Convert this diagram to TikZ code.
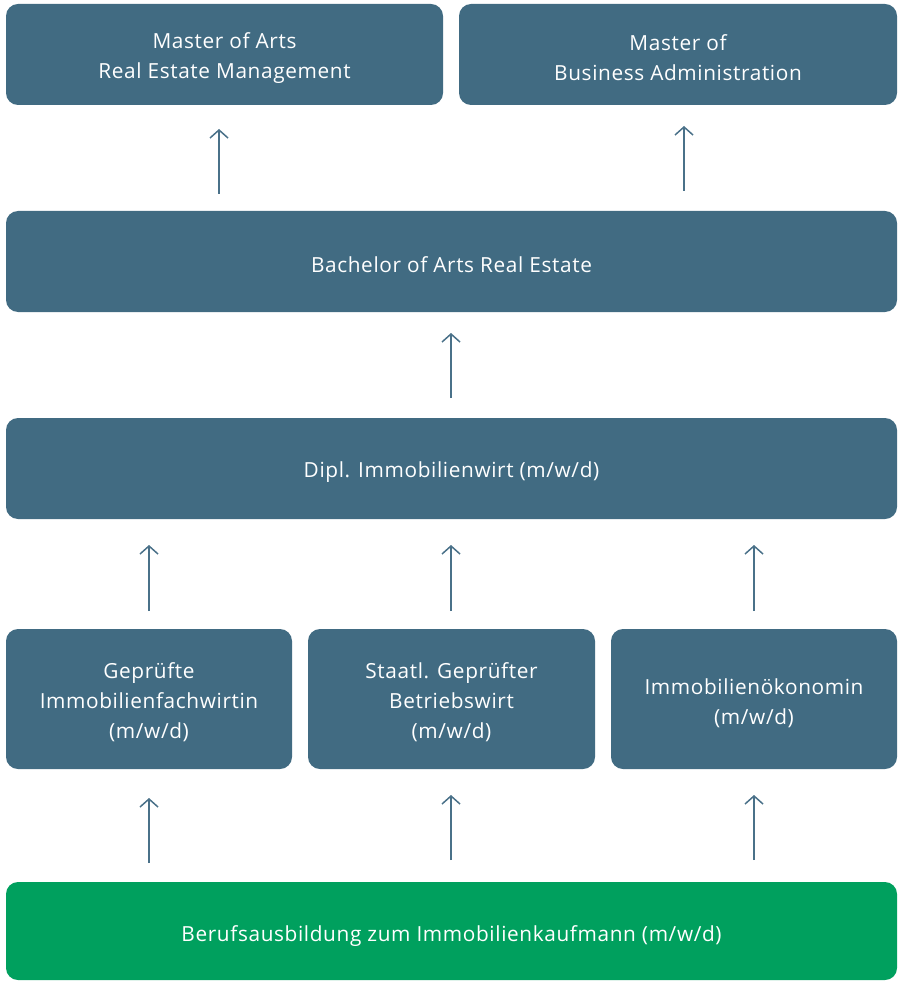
\documentclass[tikz,border=0pt]{standalone}
\usepackage{fontspec}
\setmainfont{Open Sans}[LetterSpace=3]
\usetikzlibrary{arrows.meta}
\definecolor{boxblue}{HTML}{416B82}
\definecolor{boxgreen}{HTML}{00A05E}
\definecolor{arrowblue}{HTML}{4A7189}
\tikzset{
  card/.style={fill=#1, draw=none, rounded corners=12pt},
  card/.default=boxblue,
  label/.style={text=white, align=center, font=\fontsize{20.8}{30}\selectfont, inner sep=0pt},
  uparrow/.style={draw=arrowblue, line width=1.5pt, -{Straight Barb[length=8pt,width=18pt,line width=1.5pt]}}
}
\begin{document}
\begin{tikzpicture}[x=1pt,y=-1pt]
\useasboundingbox (0,0) rectangle (900,981);
\path[card] (6,4) rectangle (443,105);
\node[label] (moa) at (224.5,58) {Master of Arts\\Real Estate Management};
\path[card] (459,4) rectangle (897,105);
\node[label] (mba) at (678,58) {Master of\\Business Administration};
\path[card] (6,211) rectangle (897,312);
\node[label] (ba) at (451.5,265) {Bachelor of Arts Real Estate};
\path[card] (6,418) rectangle (897,519);
\node[label] (dipl) at (451.5,472) {Dipl. Immobilienwirt (m/w/d)};
\path[card] (6,629) rectangle (292,769);
\node[label] (gf) at (149,702) {Geprüfte\\Immobilienfachwirtin\\(m/w/d)};
\path[card] (308,629) rectangle (595,769);
\node[label] (sg) at (451.5,702) {Staatl. Geprüfter\\Betriebswirt\\(m/w/d)};
\path[card] (611,629) rectangle (897,769);
\node[label] (io) at (754,703) {Immobilienökonomin\\(m/w/d)};
\path[card=boxgreen] (6,882) rectangle (897,980);
\node[label] (bk) at (451.5,936) {Berufsausbildung zum Immobilienkaufmann (m/w/d)};
\coordinate (a1s) at (219,194); \coordinate (a1e) at (219,129);
\coordinate (a2s) at (684,191); \coordinate (a2e) at (684,126);
\coordinate (a3s) at (451,398); \coordinate (a3e) at (451,333);
\coordinate (a4s) at (149,611); \coordinate (a4e) at (149,545);
\coordinate (a5s) at (451,611); \coordinate (a5e) at (451,545);
\coordinate (a6s) at (754,611); \coordinate (a6e) at (754,545);
\coordinate (a7s) at (149,863); \coordinate (a7e) at (149,798);
\coordinate (a8s) at (451,860); \coordinate (a8e) at (451,795);
\coordinate (a9s) at (754,860); \coordinate (a9e) at (754,795);
\foreach \i in {1,...,9} {\draw[uparrow] (a\i s) -- (a\i e);}
\end{tikzpicture}
\end{document}
